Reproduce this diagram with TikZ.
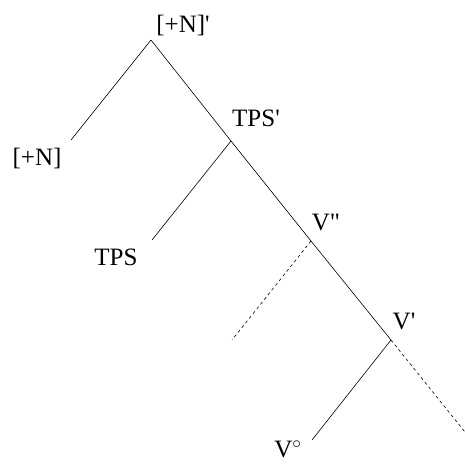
\documentclass[tikz,border=0pt]{standalone}
\usepackage{fontspec}
\setmainfont{Liberation Serif}
\usetikzlibrary{positioning}

\begin{document}
\begin{tikzpicture}[x=1pt,y=1pt,line width=0.6pt,
    lbl/.style={font=\fontsize{25}{27}\selectfont,inner sep=0pt},
    rama/.style={dash pattern=on 3pt off 3pt}]
  \useasboundingbox (0,0) rectangle (465,-464);

  % --- nudos de la rama principal
  \coordinate (raiz) at (151,-40);
  \coordinate (tpsp) at (231,-141);
  \coordinate (vpp)  at (311,-241);
  \coordinate (vp)   at (391,-340);

  % --- extremos de las ramas
  \coordinate (nhoja) at (71,-140);
  \coordinate (tpshoja) at (152,-240);
  \coordinate (vpphoja) at (232,-340);
  \coordinate (vhoja) at (312,-440);
  \coordinate (vphoja) at (465,-432);

  % --- etiquetas
  \node[lbl] (Lraiz) at (183,-25) {[+N]\textquotesingle};
  \node[lbl] (Ln)    at (37,-158) {[+N]};
  \node[lbl] (Ltpsp) at (256,-118) {TPS\textquotesingle};
  \node[lbl] (Ltps)  at (116,-257) {TPS};
  \node[lbl] (Lvpp)  at (326,-222) {V\textquotedbl};
  \node[lbl] (Lvp)   at (404,-321) {V\textquotesingle};
  \node[lbl] (Lv)    at (288,-449) {V$^\circ$};

  % --- ramas
  \draw (raiz) -- (nhoja);
  \draw (raiz) -- (tpsp) -- (vpp) -- (vp);
  \draw (tpsp) -- (tpshoja);
  \draw[rama] (vpp) -- (vpphoja);
  \draw (vp) -- (vhoja);
  \draw[rama] (vp) -- (vphoja);
\end{tikzpicture}
\end{document}
